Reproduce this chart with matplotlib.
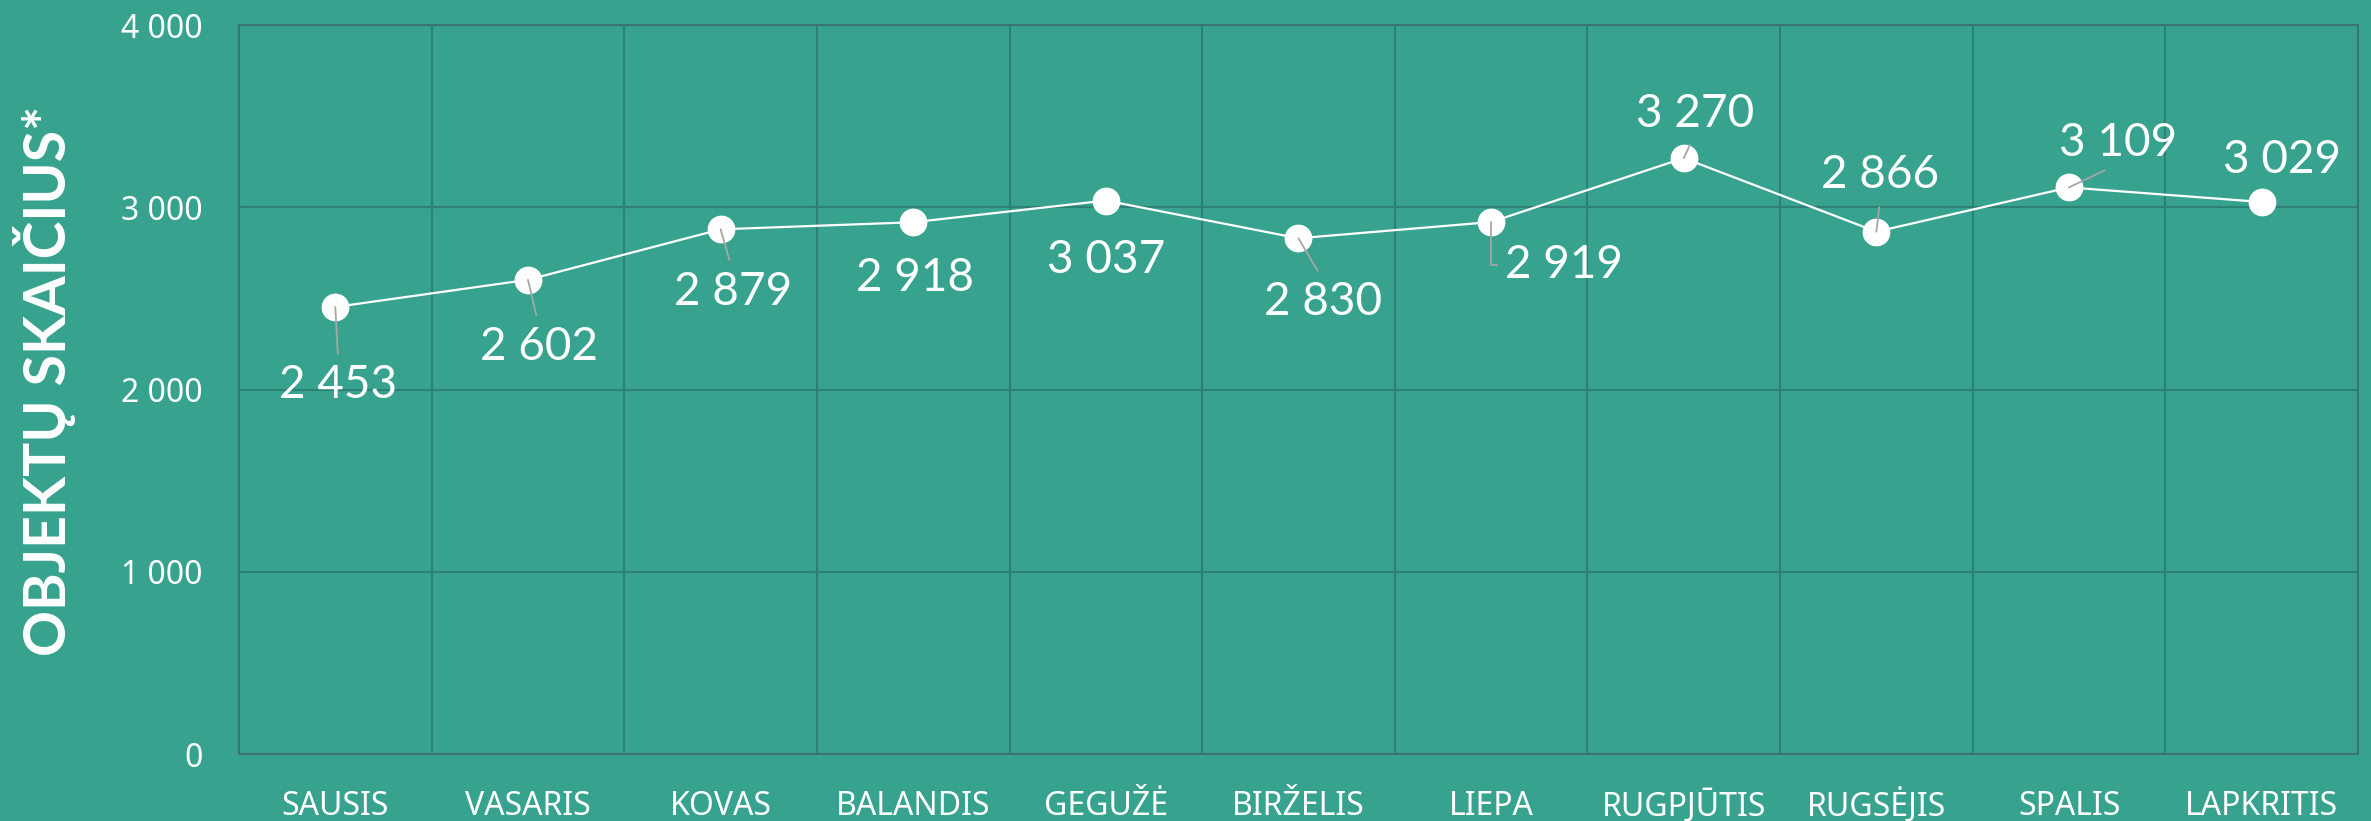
import matplotlib
matplotlib.use("Agg")
import matplotlib.pyplot as plt
from matplotlib.ticker import FuncFormatter, FixedLocator

months = ["SAUSIS", "VASARIS", "KOVAS", "BALANDIS", "GEGU\u017D\u0116", "BIR\u017DELIS",
          "LIEPA", "RUGPJ\u016ATIS", "RUGS\u0116JIS", "SPALIS", "LAPKRITIS"]
values = [2453, 2602, 2879, 2918, 3037, 2830, 2919, 3270, 2866, 3109, 3029]
y_ticks = [0, 1000, 2000, 3000, 4000]
y_label = "OBJEKT\u0172 SKAI\u010cIUS*"

# label placement (pixel offsets of label centre from point; style only)
label_dx = [3, 11, 12, 2, 0, 25, 73, 11, 4, 49, 20]
label_dy = [-75, -64, -59, -52, -56, -60, -39, 48, 60, 48, 45]
leader = [True, True, True, False, False, True, True, True, True, True, False]

DPI = 100
BG = "#37A38F"
GRID = "#2F8074"
SPINE = "#3C7470"
LEAD = "#A6A6A6"

fig = plt.figure(figsize=(23.71, 8.21), dpi=DPI, facecolor=BG)
ax = fig.add_axes([0.1008, 0.0816, 0.9945 - 0.1008, 0.9695 - 0.0816])
ax.set_facecolor(BG)

x = list(range(len(months)))
ax.plot(x, values, color="white", lw=1.6, marker="o", ms=19,
        markerfacecolor="white", markeredgecolor="white", zorder=3)

ax.set_xlim(-0.5, len(months) - 0.5)
ax.set_ylim(0, 4000)
ax.yaxis.set_major_locator(FixedLocator(y_ticks))
ax.yaxis.set_major_formatter(FuncFormatter(lambda v, p: f"{int(v):,}".replace(",", " ")))
ax.set_xticks(x)
ax.set_xticklabels(months)
ax.xaxis.set_minor_locator(FixedLocator([i - 0.5 for i in range(len(months) + 1)]))

ax.grid(True, axis="y", which="major", color=GRID, lw=1.5, zorder=0)
ax.grid(True, axis="x", which="minor", color=GRID, lw=1.5, zorder=0)
ax.grid(False, axis="x", which="major")
ax.tick_params(axis="both", which="both", length=0)
ax.tick_params(axis="y", labelsize=23, labelcolor="white", pad=26)
ax.tick_params(axis="x", labelsize=23, labelcolor="white", pad=44)
for lab in ax.get_yticklabels():
    lab.set_fontfamily(["Noto Sans", "DejaVu Sans"])
for lab in ax.get_xticklabels():
    lab.set_fontfamily(["Noto Sans", "DejaVu Sans"])
    lab.set_verticalalignment("baseline")
for s in ax.spines.values():
    s.set_color(SPINE)
    s.set_linewidth(1.5)

ax.set_ylabel(y_label, fontsize=41, fontweight="bold", color="white",
              family=["Lato", "DejaVu Sans"])
ax.yaxis.set_label_coords((76 - 239) / (2358 - 239), 0.512)

px2pt = 72.0 / DPI
cap_half = 16.5
for i, v in enumerate(values):
    dx = label_dx[i] * px2pt
    dy = (label_dy[i] - cap_half) * px2pt
    txt = f"{v:,}".replace(",", " ")
    kw = {}
    if leader[i]:
        below = label_dy[i] < 0
        kw["arrowprops"] = dict(arrowstyle="-", color=LEAD, lw=1.3,
                                shrinkA=6, shrinkB=0,
                                relpos=(0.5, 1.0) if below else (0.5, 0.0))
        if i == 6:
            kw["arrowprops"] = dict(arrowstyle="-", color=LEAD, lw=1.3,
                                    shrinkA=4, shrinkB=0, relpos=(0.0, 0.5),
                                    connectionstyle="angle,angleA=0,angleB=90,rad=0")
    ax.annotate(txt, xy=(i, v), xytext=(dx, dy), textcoords="offset points",
                ha="center", va="baseline", fontsize=33, color="white",
                family=["Lato", "DejaVu Sans"], zorder=5, **kw)

fig.savefig("out.png", dpi=DPI, facecolor=BG)
